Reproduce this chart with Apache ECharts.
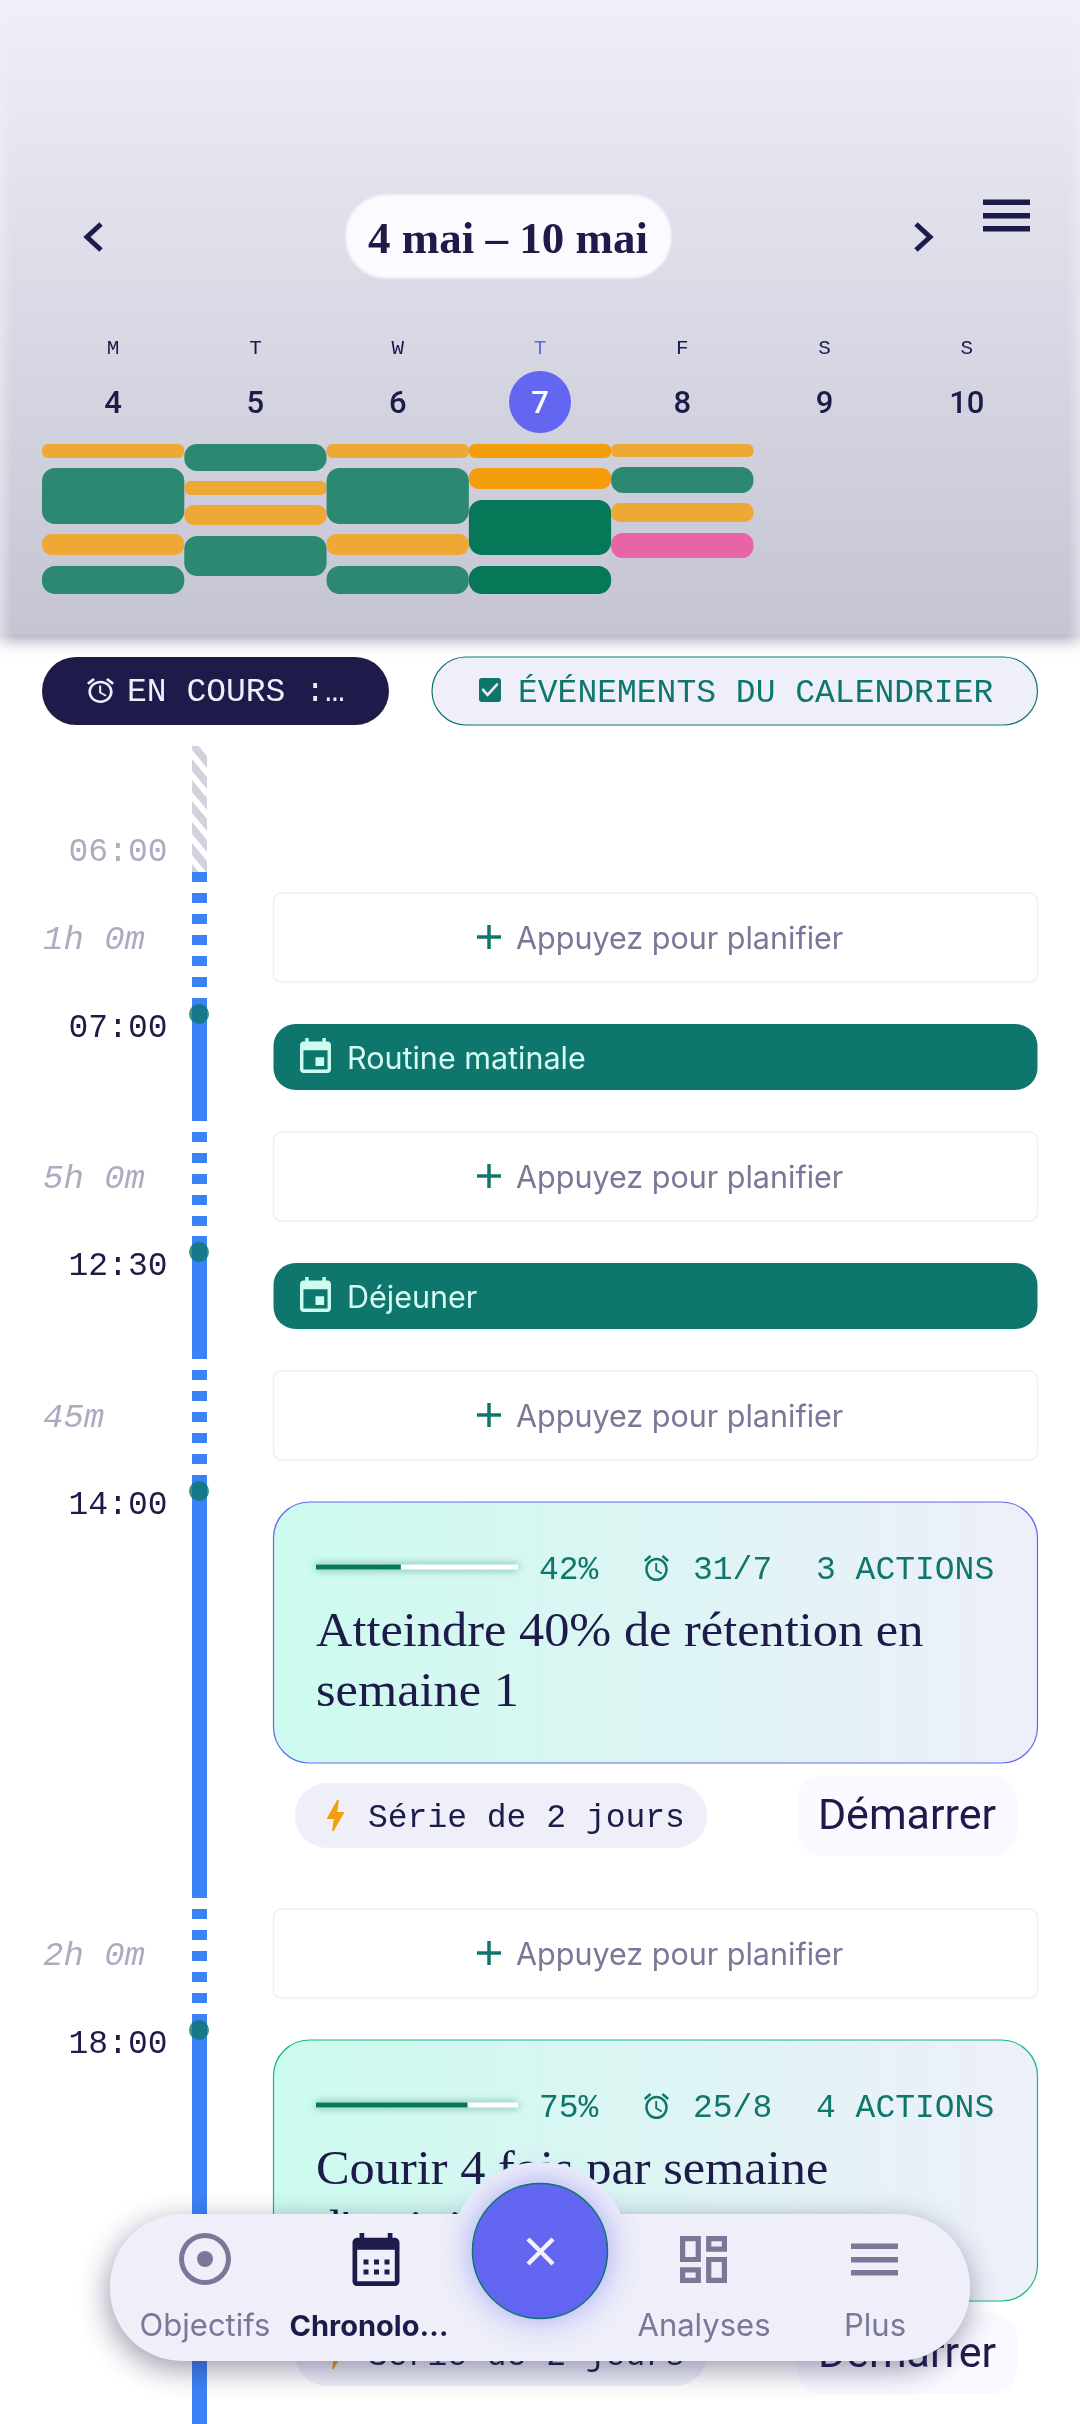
<!DOCTYPE html>
<html>
<head>
<meta charset="utf-8">
<style>html,body{margin:0;padding:0;background:#fff}#c{width:1080px;height:2424px}</style>
<script src="https://cdn.jsdelivr.net/npm/echarts@6/dist/echarts.min.js"></script>
</head>
<body>
<div id="c"></div>
<script>
// ---------- data ----------
const weekTitle = '4 mai – 10 mai';
const dayLetters = ['M','T','W','T','F','S','S'];
const dayNumbers = ['4','5','6','7','8','9','10'];
const todayIndex = 3;
const blockDay   = [0,0,0,0, 1,1,1,1, 2,2,2,2, 3,3,3,3, 4,4,4,4];
const blockStart = [0,24,90,122, 0,37,61,92, 0,24,90,122, 0,24,56,122, 0,23,59,89];
const blockEnd   = [14,80,111,150, 27,51,81,132, 14,80,111,150, 14,45,111,150, 13,49,78,114];
const blockKind  = ['h','g','h','g', 'g','h','h','g', 'h','g','h','g', 'H','H','G','G', 'h','g','h','p'];
const filterLabels = ['EN COURS :…','ÉVÉNEMENTS DU CALENDRIER'];
const slotFrom = [5,6,7,7.5,12.5,13.25,14,16,18];
const slotTo   = [6,7,7.5,12.5,13.25,14,16,18,20];
const slotKind = ['off','gap','busy','gap','busy','gap','busy','gap','busy'];
const timeHours  = [6,7,12.5,14,18];
const timeLabels = ['06:00','07:00','12:30','14:00','18:00'];
const eventHours = [7,12.5,14,18];
const gapLabels  = ['1h 0m','5h 0m','45m','2h 0m'];
const planLabel  = 'Appuyez pour planifier';
const calendarEvents = ['Routine matinale','Déjeuner'];
const goalNames    = ['g1','g2'];
const goalProgress = [42,75];
const goalDates    = ['31/7','25/8'];
const goalActions  = ['3 ACTIONS','4 ACTIONS'];
const goalTitles   = [['Atteindre 40% de rétention en','semaine 1'],['Courir 4 fois par semaine',"d'activité"]];
const streakLabel  = 'Série de 2 jours';
const startLabel   = 'Démarrer';
const navLabels    = ['Objectifs','Chronolo…','Analyses','Plus'];

// ---------- layout / style (kept apart from data) ----------
const INK='#1e1b4b', TEAL='#0f766e', MUTE='#7a7799', FAINT='#aeabc1', PALE='#eeeff9', INDIGO='#6366f1';
const KIND = {h:'#eea835',g:'#2c8871',p:'#e864a5',H:'#f59e0b',G:'#067857'};
const MONO='"Liberation Mono"', SANS='Inter', SERIF='"Liberation Serif"', ROBOTO='Roboto';
const hourPx = [[5,746],[6,872],[7,998],[7.5,1121],[12.5,1236],[13.25,1359],[14,1475],[16,1898],[18,2014],[20,2424]];
function hourToY(h){
  for(let i=1;i<hourPx.length;i++){
    if(h<=hourPx[i][0]){
      const a=hourPx[i-1],b=hourPx[i];
      return a[1]+(h-a[0])/(b[0]-a[0])*(b[1]-a[1]);
    }
  }
  return hourPx[hourPx.length-1][1];
}
const ICON = {
 event:'M17 12h-5v5h5v-5zM16 1v2H8V1H6v2H5c-1.11 0-1.99.9-1.99 2L3 19c0 1.1.89 2 2 2h14c1.1 0 2-.9 2-2V5c0-1.1-.9-2-2-2h-1V1h-2zm3 18H5V8h14v11z',
 alarm:'M22 5.72l-4.6-3.86-1.29 1.53 4.6 3.86L22 5.72zM7.88 3.39L6.6 1.86 2 5.71l1.29 1.53 4.59-3.85zM12.5 8H11v6l4.75 2.85.75-1.23-4-2.37V8zM12 4c-4.97 0-9 4.03-9 9s4.03 9 9 9 9-4.03 9-9-4.03-9-9-9zm0 16c-3.87 0-7-3.13-7-7s3.13-7 7-7 7 3.13 7 7-3.13 7-7 7z',
 check:'M19 3H5c-1.11 0-2 .9-2 2v14c0 1.1.89 2 2 2h14c1.1 0 2-.9 2-2V5c0-1.1-.9-2-2-2zm-9 14l-5-5 1.41-1.41L10 14.17l7.59-7.59L19 8l-9 9z',
 bolt:'M11 21h-1l1-7H7.5c-.58 0-.57-.32-.38-.66.19-.34.05-.08.07-.12C8.48 10.94 10.42 7.54 13 3h1l-1 7h3.5c.49 0 .56.33.47.51l-.07.15C12.96 17.55 11 21 11 21z',
 cal:'M20 3h-1V1h-2v2H7V1H5v2H4c-1.1 0-2 .9-2 2v16c0 1.1.9 2 2 2h16c1.1 0 2-.9 2-2V5c0-1.1-.9-2-2-2zm0 18H4V8h16v13z',
 dash:'M19 5v2h-4V5h4M9 5v6H5V5h4m10 8v6h-4v-6h4M9 17v2H5v-2h4M21 3h-8v6h8V3zM11 3H3v10h8V3zm10 8h-8v10h8V11zM11 15H3v6h8v-6z'
};
const els=[], iconsLow=[], iconsHigh=[];
function rect(x,y,w,h,r,fill,extra){els.push(Object.assign({type:'rect',silent:true,z:1,shape:{x,y,width:w,height:h,r},style:Object.assign({fill},extra&&extra.style||{})},extra&&extra.el||{}));}
function text(x,y,t,size,font,fill,opt){opt=opt||{};
  els.push({type:'text',silent:true,z:opt.z||5,x,y,scaleX:opt.sx||1,style:{text:t,fill,font:(opt.style||'')+' '+(opt.weight||'400')+' '+size+'px '+font,align:opt.align||'left',verticalAlign:'middle'}});}
function icon(path,x,y,w,h,fill,z){(z?iconsHigh:iconsLow).push({path,x,y,w,h,fill});}
function line(x1,y1,x2,y2,stroke,w,z,cap){els.push({type:'line',silent:true,z:z||5,shape:{x1,y1,x2,y2},style:{stroke,lineWidth:w,lineCap:cap||'butt'}});}
function circle(cx,cy,r,fill,extra){els.push({type:'circle',silent:true,z:(extra&&extra.z)||5,shape:{cx,cy,r},style:Object.assign({fill},extra&&extra.style||{})});}

// header
rect(0,0,1080,635,0,{type:'linear',x:0,y:0,x2:0,y2:1,colorStops:[{offset:0,color:'#eeeff9'},{offset:1,color:'#c5c4d2'}]},
  {style:{shadowBlur:16,shadowColor:'rgba(30,27,75,0.45)',shadowOffsetY:4},el:{z:1}});
rect(0,0,12,635,0,{type:'linear',x:0,y:0,x2:1,y2:0,colorStops:[{offset:0,color:'rgba(238,239,249,0.55)'},{offset:1,color:'rgba(238,239,249,0)'}]});
rect(1068,0,12,635,0,{type:'linear',x:0,y:0,x2:1,y2:0,colorStops:[{offset:0,color:'rgba(238,239,249,0)'},{offset:1,color:'rgba(238,239,249,0.55)'}]});
rect(346,195,325,83,40,'#fbfaff',{style:{stroke:'#eeeff9',lineWidth:2},el:{z:1}});
text(508,241,weekTitle,45,SERIF,INK,{align:'center',weight:'700'});
els.push({type:'polyline',silent:true,z:5,shape:{points:[[101,224],[87,237],[101,250]]},style:{fill:'none',stroke:INK,lineWidth:5}});
els.push({type:'polyline',silent:true,z:5,shape:{points:[[916,224],[930,237],[916,250]]},style:{fill:'none',stroke:INK,lineWidth:5}});
[202,215.5,228.5].forEach(y=>rect(983,y-2.5,47,5.5,0,INK,{el:{z:5}}));

// filters
rect(42,657,347,68,34,INK);
icon(ICON.alarm,87,678,27,25,PALE);
text(127,692,filterLabels[0],33,MONO,PALE);
rect(432,657,605.5,68,34,PALE,{style:{stroke:TEAL,lineWidth:1.2},el:{z:1}});
icon(ICON.check,479,678,22,24,TEAL);
text(518,693,filterLabels[1],33,MONO,TEAL);

// time labels
timeLabels.forEach((t,i)=>{
  const y=hourToY(timeHours[i])+(i===0?-20:30);
  text(167.5,y,t,33,MONO,i===0?FAINT:INK,{align:'right'});
});
// gaps
const planTop=[893,1132,1371,1909];
gapLabels.forEach((t,i)=>{
  const y=planTop[i];
  text(43,y+47,t,34,MONO,FAINT,{style:'italic'});
  rect(273.5,y,764,89,8,'#ffffff',{style:{stroke:PALE,lineWidth:1.5},el:{z:1}});
  line(489,y+32,489,y+56,TEAL,3.5);
  line(477,y+44,501,y+44,TEAL,3.5);
  text(516,y+47,planLabel,30.5,SANS,MUTE);
});
// calendar events
calendarEvents.forEach((t,i)=>{
  const y=[1024,1263][i];
  rect(273.5,y,764,66,22,TEAL);
  icon(ICON.event,300,y+14,31,35,'#ccfbef');
  text(347,y+36,t,30.5,SANS,'#d6fbf2');
});
// goal cards
const cardTop=[1502,2040], cardStroke=[INDIGO,'#10b981'];
goalTitles.forEach((lines,i)=>{
  const y=cardTop[i];
  rect(273.5,y,764,261,36,{type:'linear',x:0,y:0,x2:1,y2:0,colorStops:[{offset:0,color:'#ccfbef'},{offset:1,color:'#eeeff9'}]},{style:{stroke:cardStroke[i],lineWidth:1.2},el:{z:1}});
  text(539,y+68,goalProgress[i]+'%',33,MONO,TEAL);
  icon(ICON.alarm,644,y+53,25,26,TEAL);
  text(693,y+68,goalDates[i],33,MONO,TEAL);
  text(816,y+68,goalActions[i],33,MONO,TEAL);
  text(316,y+131,lines[0],48,SERIF,INK,{sx:1.05});
  text(316,y+191,lines[1],48,SERIF,INK,{sx:1.05});
  rect(295,y+281,412,65,32,PALE);
  icon(ICON.bolt,327,y+298,17,31,'#f59e0b');
  text(368,y+316,streakLabel,33,MONO,INK);
  rect(797,y+273,220,81,25,'#faf9ff');
  text(907,y+316,startLabel,43,ROBOTO,INK,{align:'center'});
});

// bottom nav (above everything)
const NZ=30;
els.push({type:'rect',silent:true,z:NZ,shape:{x:110,y:2214,width:860,height:147,r:72},style:{fill:PALE,shadowBlur:30,shadowColor:'rgba(30,27,75,0.45)',shadowOffsetY:8,shadowOffsetX:-2}});
els.push({type:'circle',silent:true,z:NZ+1,shape:{cx:540,cy:2251,r:89},style:{fill:PALE}});
circle(540,2251,67.5,INDIGO,{z:NZ+3,style:{stroke:TEAL,lineWidth:1.5,shadowBlur:32,shadowColor:'rgba(99,102,241,0.5)'}});
line(528,2239,553,2264,'#f2f2fd',4.5,NZ+4);
line(553,2239,528,2264,'#f2f2fd',4.5,NZ+4);
const navX=[205,369,704,875];
navLabels.forEach((t,i)=>{
  text(navX[i],2327,t,i===1?29:31,SANS,i===1?INK:MUTE,{align:'center',weight:i===1?'700':'400',z:NZ+4});
});
els.push({type:'ring',silent:true,z:NZ+4,shape:{cx:205,cy:2259,r:26,r0:21},style:{fill:MUTE}});
circle(205,2259,8,MUTE,{z:NZ+4});
icon(ICON.cal,352.5,2233,47,53,INK,NZ+4);
[366,376.5,387].forEach(x=>[2262,2272].forEach(y=>els.push({type:'rect',silent:true,z:NZ+25,shape:{x:x-2.5,y:y-2.5,width:5,height:5},style:{fill:INK}})));
icon(ICON.dash,680,2236,47,47,MUTE,NZ+4);
[2246,2259.5,2272.5].forEach(y=>els.push({type:'rect',silent:true,z:NZ+4,shape:{x:851,y:y-2.5,width:47,height:5.5},style:{fill:MUTE}}));

// hatch pattern
const hatch=document.createElement('canvas');hatch.width=15;hatch.height=21;
(function(){const c=hatch.getContext('2d');c.fillStyle='#d2d1de';
  c.beginPath();c.moveTo(0,-8);c.lineTo(0,4);c.lineTo(15,22);c.lineTo(15,10);c.closePath();c.fill();
  c.beginPath();c.moveTo(0,13);c.lineTo(0,25);c.lineTo(15,43);c.lineTo(15,31);c.closePath();c.fill();
  c.beginPath();c.moveTo(0,-29);c.lineTo(0,-17);c.lineTo(15,1);c.lineTo(15,-11);c.closePath();c.fill();
})();

function iconSeries(list,z){
  return {type:'custom',xAxisIndex:2,yAxisIndex:1,z,clip:false,silent:true,
    data:list.map((d,i)=>[d.x,d.y,i]),
    renderItem:(p,api)=>{const d=list[p.dataIndex];const c=api.coord([d.x,d.y]);
      return {type:'path',shape:{pathData:d.path,layout:'cover',x:c[0],y:c[1],width:d.w,height:d.h},style:{fill:d.fill}};}};
}
const chart=echarts.init(document.getElementById('c'),null,{renderer:'canvas',width:1080,height:2424});
chart.setOption({
  animation:false,
  backgroundColor:'#ffffff',
  grid:[
    {left:42,top:444,width:996,height:150,containLabel:false},
    {left:0,top:0,width:1080,height:2424},
    {left:316,width:202,top:1298,height:1076}
  ],
  xAxis:[
    {gridIndex:0,type:'category',position:'top',data:dayLetters,axisLine:{show:false},axisTick:{show:false},z:10,
     axisLabel:{interval:0,margin:96,verticalAlign:'middle',fontFamily:MONO,fontSize:21,color:(v,i)=>i===todayIndex?INDIGO:INK}},
    {gridIndex:0,type:'category',position:'top',data:dayNumbers,axisLine:{show:false},axisTick:{show:false},z:10,
     axisLabel:{interval:0,margin:39,verticalAlign:'middle',fontFamily:ROBOTO,fontWeight:500,fontSize:31,color:(v,i)=>i===todayIndex?'#ffffff':INK}},
    {gridIndex:1,type:'value',min:0,max:1080,show:false},
    {gridIndex:2,type:'value',min:0,max:100,show:false}
  ],
  yAxis:[
    {gridIndex:0,type:'value',min:0,max:150,inverse:true,show:false},
    {gridIndex:1,type:'value',min:0,max:2424,inverse:true,show:false},
    {gridIndex:2,type:'category',data:goalNames,inverse:true,show:false}
  ],
  series:[
    {type:'custom',name:'week',xAxisIndex:0,yAxisIndex:0,z:3,clip:false,
     data:blockDay.map((d,i)=>[d,blockStart[i],blockEnd[i],blockKind[i]]),
     renderItem:(p,api)=>{
       const a=api.coord([api.value(0),api.value(1)]),b=api.coord([api.value(0),api.value(2)]);
       const w=api.size([1,0])[0];
       const h=b[1]-a[1];
       return {type:'rect',shape:{x:a[0]-w/2,y:a[1],width:w,height:h,r:Math.min(13,h/2-1)},style:{fill:KIND[blockKind[p.dataIndex]]}};
     }},
    {type:'custom',name:'today',xAxisIndex:0,yAxisIndex:0,z:3,clip:false,data:[[todayIndex]],
     renderItem:(p,api)=>{const c=api.coord([api.value(0),-42]);return {type:'circle',shape:{cx:c[0],cy:c[1],r:31},style:{fill:INDIGO}};}},
    {type:'custom',name:'timeline',xAxisIndex:2,yAxisIndex:1,z:3,clip:false,
     data:slotFrom.map((f,i)=>[199.5,hourToY(f),hourToY(slotTo[i])]),
     renderItem:(p,api)=>{
       const a=api.coord([api.value(0),api.value(1)]),b=api.coord([api.value(0),api.value(2)]);
       const k=slotKind[p.dataIndex];
       if(k==='off')return {type:'rect',shape:{x:a[0]-7.5,y:a[1],width:15,height:b[1]-a[1]},style:{fill:{image:hatch,repeat:'repeat',x:192,y:746}}};
       if(k==='gap')return {type:'line',shape:{x1:a[0],y1:a[1]+(p.dataIndex===1?0:11),x2:b[0],y2:b[1]-10},style:{stroke:'#3b82f6',lineWidth:15,lineDash:[10,11],fill:null}};
       return {type:'rect',shape:{x:a[0]-7.5,y:a[1],width:15,height:b[1]-a[1]},style:{fill:'#3b82f6'}};
     }},
    {type:'scatter',name:'starts',xAxisIndex:2,yAxisIndex:1,z:4,symbolSize:20,itemStyle:{color:TEAL},silent:true,
     data:eventHours.map(h=>[199,hourToY(h)+16])},
    {type:'bar',name:'progress',xAxisIndex:3,yAxisIndex:2,z:4,barWidth:5,silent:true,data:goalProgress,
     itemStyle:{color:'#067857'},
     showBackground:true,backgroundStyle:{color:'#ffffff',shadowBlur:9,shadowColor:'rgba(6,120,87,0.6)'}},
    iconSeries(iconsLow,6),
    iconSeries(iconsHigh,40)
  ],
  graphic:{elements:els}
});
</script>
</body>
</html>
